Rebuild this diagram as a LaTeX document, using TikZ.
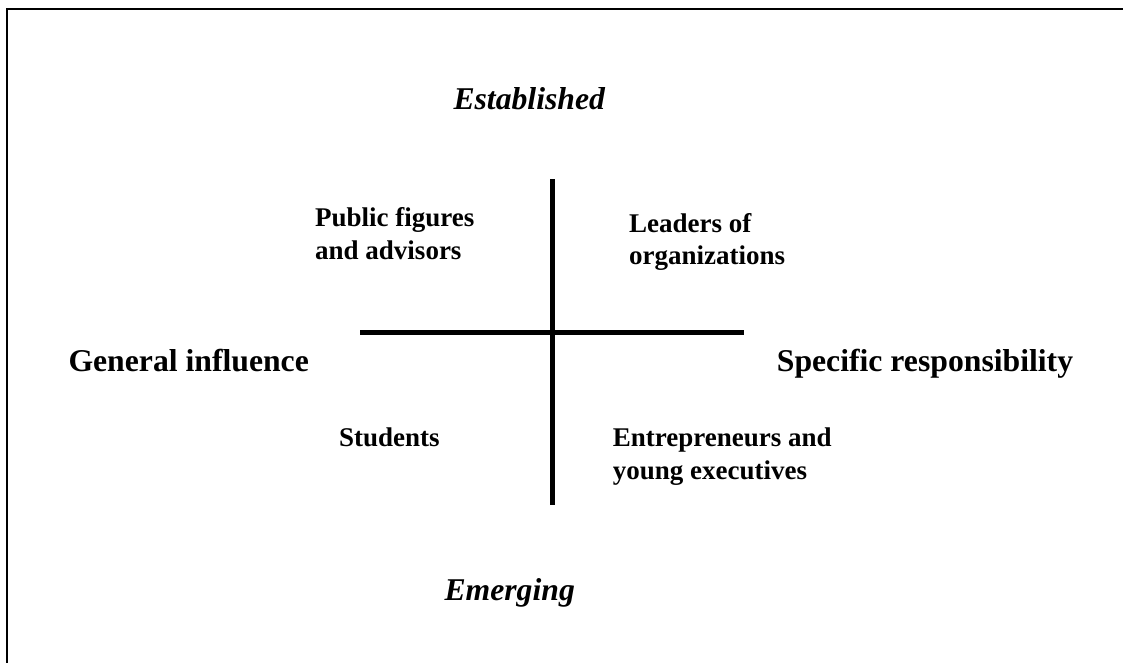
\documentclass[tikz,border=0pt]{standalone}
\usepackage{fontspec}
\setmainfont{Liberation Serif}
\begin{document}
\begin{tikzpicture}[x=1pt,y=-1pt,
  axis/.style={line width=5pt},
  frame/.style={line width=1.8pt},
  pole/.style={inner sep=0pt,anchor=base west,font=\fontsize{31.7}{38}\selectfont\bfseries\itshape},
  dim/.style={inner sep=0pt,anchor=base west,font=\fontsize{31.7}{38}\selectfont\bfseries},
  quad/.style={inner sep=0pt,anchor=base west,align=left,font=\fontsize{27}{32.5}\selectfont\bfseries}]
\useasboundingbox (0,0) rectangle (1123,663);
\draw[frame] (7,670) -- (7,9) -- (1130,9);
\coordinate (vt) at (552,179);
\coordinate (vb) at (552,505);
\coordinate (hl) at (360,332.5);
\coordinate (hr) at (744,332.5);
\draw[axis] (vt) -- (vb);
\draw[axis] (hl) -- (hr);
\node[pole] (est) at (453.3,109.3) {Established};
\node[pole] (emg) at (444.3,600) {Emerging};
\node[dim] (gen) at (68.3,371.7) {General influence};
\node[dim] (spc) at (776.7,371.7) {Specific responsibility};
\node[quad] (pub) at (315,259.2) {Public figures\\and advisors};
\node[quad] (lead) at (629,264.5) {Leaders of\\organizations};
\node[quad] (stu) at (339,446.7) {Students};
\node[quad] (ent) at (612.7,479) {Entrepreneurs and\\young executives};
\end{tikzpicture}
\end{document}
